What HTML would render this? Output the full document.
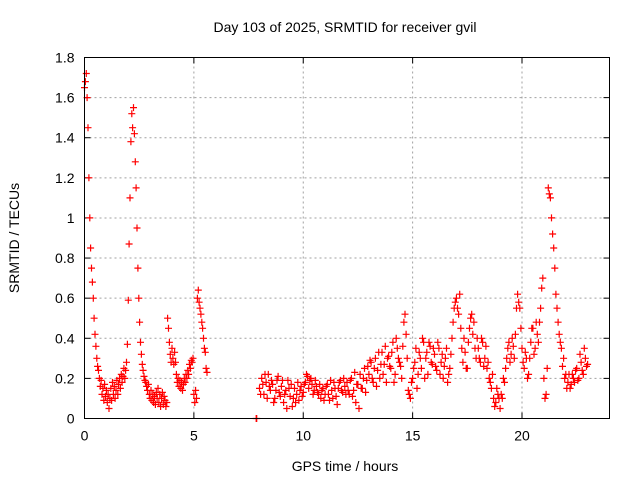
<!DOCTYPE html>
<html><head><meta charset="utf-8"><style>
html,body{margin:0;padding:0;background:#fff;}
svg{display:block;font-family:"Liberation Sans",sans-serif;}
</style></head><body>
<svg id="chart" width="640" height="480" viewBox="0 0 640 480" xmlns="http://www.w3.org/2000/svg">
<rect x="0" y="0" width="640" height="480" fill="#fff"/>
<text x="345" y="32" text-anchor="middle" font-size="14" fill="#000">Day 103 of 2025, SRMTID for receiver gvil</text>
<text transform="translate(19,238) rotate(-90)" text-anchor="middle" font-size="14" fill="#000">SRMTID / TECUs</text>
<text x="345" y="471" text-anchor="middle" font-size="14" fill="#000">GPS time / hours</text>
<g id="grid"></g>
<g id="ticks"></g>
<g id="marks"></g>
<rect x="84.5" y="57.5" width="525" height="361" fill="none" stroke="#000" stroke-width="1"/>
</svg>
<script>
const xTicks = [0, 5, 10, 15, 20];
const yTicks = [0, 0.2, 0.4, 0.6, 0.8, 1, 1.2, 1.4, 1.6, 1.8];
const yTickLabels = ["0","0.2","0.4","0.6","0.8","1","1.2","1.4","1.6","1.8"];
const segAStart = 0, segAStep = 0.04;
const segAValues = [1.65,1.68,1.72,1.60,1.45,1.20,1.00,0.85,0.75,0.68,0.60,0.50,0.42,0.36,0.30,0.26,0.24,0.20,0.16,0.19,
0.12,0.15,0.09,0.17,0.11,0.14,0.08,0.12,0.05,0.10,0.15,0.09,0.18,0.12,0.16,0.10,0.14,0.19,0.12,0.17,
0.20,0.15,0.22,0.18,0.21,0.25,0.20,0.24,0.28,0.37,0.59,0.87,1.10,1.38,1.52,1.45,1.55,1.42,1.28,1.15,
0.95,0.75,0.60,0.48,0.38,0.32,0.27,0.24,0.21,0.19,0.18,0.16,0.14,0.17,0.12,0.10,0.14,0.09,0.12,0.08,
0.11,0.07,0.13,0.10,0.15,0.08,0.12,0.06,0.10,0.13,0.07,0.11,0.09,0.06,0.08,0.50,0.45,0.38,0.32,0.28,
0.35,0.30,0.27,0.33,0.28,0.22,0.18,0.20,0.16,0.19,0.15,0.18,0.14,0.17,0.20,0.18,0.22,0.20,0.24,0.22,
0.27,0.25,0.29,0.28,0.30,0.12,0.08,0.14,0.10,0.60,0.64,0.58,0.55,0.52,0.48,0.45,0.40,0.35,0.33,0.25,0.23];
const isoTimes = [7.85, 7.87];
const isoValues = [0.0, 0.0];
const segBStart = 8.0, segBStep = 0.1;
const segBValues = [0.15,0.20,0.12,0.18,0.22,0.14,0.17,0.10,0.19,0.13,
0.16,0.08,0.14,0.19,0.11,0.06,0.15,0.12,0.09,0.16,
0.13,0.18,0.21,0.19,0.17,0.14,0.16,0.12,0.10,0.15,
0.12,0.17,0.09,0.14,0.18,0.11,0.15,0.19,0.13,0.16,
0.18,0.12,0.20,0.14,0.08,0.17,0.22,0.15,0.25,0.19,
0.22,0.28,0.18,0.30,0.24,0.20,0.33,0.27,0.18,0.31,
0.25,0.38,0.22,0.35,0.28,0.20,0.48,0.42,0.14,0.10,
0.20,0.28,0.15,0.33,0.25,0.38,0.30,0.22,0.36,0.27,
0.32,0.24,0.35,0.28,0.20,0.30,0.18,0.25,0.40,0.55,
0.60,0.52,0.45,0.28,0.33,0.25,0.45,0.52,0.48,0.30,
0.35,0.28,0.38,0.30,0.25,0.20,0.15,0.10,0.08,0.12,
0.05,0.10,0.18,0.30,0.38,0.32,0.36,0.42,0.62,0.55,
0.35,0.25,0.30,0.22,0.38,0.45,0.35,0.42,0.48,0.65,
0.20,0.12,1.15,1.10,0.92,0.75,0.55,0.42,0.35,0.30,
0.22,0.18,0.15,0.22,0.18,0.25,0.20,0.28,0.22,0.30,
0.27];
const segCStart = 8.05, segCStep = 0.1;
const segCValues = [0.12,0.17,0.22,0.10,0.16,0.19,0.08,0.14,0.21,0.11,
0.19,0.12,0.05,0.15,0.17,0.10,0.08,0.18,0.14,0.11,
0.17,0.22,0.15,0.20,0.12,0.19,0.13,0.17,0.14,0.09,
0.16,0.12,0.19,0.10,0.15,0.07,0.18,0.14,0.20,0.12,
0.14,0.19,0.11,0.23,0.17,0.05,0.15,0.20,0.13,0.26,
0.29,0.20,0.25,0.16,0.33,0.27,0.22,0.36,0.30,0.26,
0.33,0.18,0.40,0.30,0.26,0.36,0.52,0.30,0.12,0.18,
0.25,0.35,0.22,0.30,0.40,0.20,0.33,0.38,0.28,0.35,
0.26,0.38,0.22,0.32,0.26,0.35,0.22,0.32,0.48,0.58,
0.55,0.62,0.35,0.40,0.25,0.38,0.50,0.42,0.35,0.40,
0.30,0.40,0.26,0.36,0.28,0.18,0.22,0.06,0.15,0.10,
0.12,0.20,0.25,0.35,0.28,0.40,0.30,0.55,0.58,0.45,
0.28,0.33,0.20,0.30,0.45,0.32,0.48,0.38,0.55,0.70,
0.10,0.25,1.12,1.00,0.85,0.62,0.48,0.38,0.26,0.20,
0.15,0.22,0.17,0.20,0.24,0.19,0.32,0.24,0.35,0.26];

const X0=84.5, X1=609.5, Y0=418.5, Y1=57.5, XMAX=24, YMAX=1.8;
function xs(t){return X0+(t/XMAX)*(X1-X0);}
function ys(v){return Y0-(v/YMAX)*(Y0-Y1);}
const NS="http://www.w3.org/2000/svg";
const grid=document.getElementById('grid'), ticks=document.getElementById('ticks'), marks=document.getElementById('marks');
function mk(tag,attrs,parent){const e=document.createElementNS(NS,tag);for(const k in attrs)e.setAttribute(k,attrs[k]);parent.appendChild(e);return e;}

yTicks.forEach((v,i)=>{
  if(i>0 && i<yTicks.length-1){
    const g=mk('line',{x1:X0,x2:X1,y1:ys(v),y2:ys(v),stroke:'#a0a0a0','stroke-dasharray':'2,3'},grid);
    
    
  }
  const t1=mk('line',{x1:X0,x2:X0+6,y1:ys(v),y2:ys(v),stroke:'#000'},ticks);
  
  
  const t2=mk('line',{x1:X1-6,x2:X1,y1:ys(v),y2:ys(v),stroke:'#000'},ticks);
  
  
  const l=mk('text',{x:X0-10,y:ys(v)+5,'text-anchor':'end','font-size':'14',fill:'#000'},ticks);
  l.textContent=yTickLabels[i];
  
  
});
xTicks.forEach(t=>{
  if(t>0){
    const g=mk('line',{x1:xs(t),x2:xs(t),y1:Y0,y2:Y1,stroke:'#a0a0a0','stroke-dasharray':'2,3'},grid);
    
    
  }
  const t1=mk('line',{x1:xs(t),x2:xs(t),y1:Y0,y2:Y0-6,stroke:'#000'},ticks);
  
  
  const t2=mk('line',{x1:xs(t),x2:xs(t),y1:Y1,y2:Y1+6,stroke:'#000'},ticks);
  
  
  const l=mk('text',{x:xs(t),y:Y0+22,'text-anchor':'middle','font-size':'14',fill:'#000'},ticks);
  l.textContent=String(t);
  
  
});

let d='';
function plus(t,v){const x=xs(t),y=ys(v);d+=`M${(x-3.5).toFixed(1)} ${y.toFixed(1)}h7M${x.toFixed(1)} ${(y-3.5).toFixed(1)}v7`;}
segAValues.forEach((v,i)=>plus(segAStart+i*segAStep,v));
isoTimes.forEach((t,i)=>plus(t,isoValues[i]));
segBValues.forEach((v,i)=>plus(segBStart+i*segBStep,v));
segCValues.forEach((v,i)=>plus(segCStart+i*segCStep,v));
const p=mk('path',{d:d,stroke:'#ff0000','stroke-width':'1.2',fill:'none'},marks);


</script>
</body></html>
